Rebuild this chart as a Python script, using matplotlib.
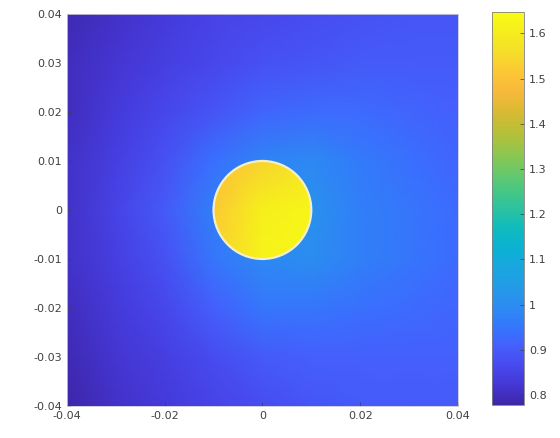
import numpy as np
import matplotlib
matplotlib.use('Agg')
import matplotlib.pyplot as plt
from matplotlib.colors import LinearSegmentedColormap
from matplotlib.patches import Circle

# parula-like colormap (MATLAB default)
parula_colors = [
    (0.2422, 0.1504, 0.6603), (0.2706, 0.2147, 0.8353), (0.2810, 0.2886, 0.9380),
    (0.2691, 0.3756, 0.9917), (0.2052, 0.4691, 0.9898), (0.1734, 0.5475, 0.9462),
    (0.1391, 0.6059, 0.9011), (0.0974, 0.6530, 0.8763), (0.0424, 0.6938, 0.8262),
    (0.0582, 0.7334, 0.7406), (0.1717, 0.7625, 0.6237), (0.2858, 0.7810, 0.5044),
    (0.4340, 0.7854, 0.3954), (0.5902, 0.7728, 0.2899), (0.7316, 0.7480, 0.2144),
    (0.8596, 0.7250, 0.2008), (0.9710, 0.7238, 0.2320), (0.9900, 0.7800, 0.2100),
    (0.9590, 0.8700, 0.1600), (0.9600, 0.9300, 0.1150), (0.9769, 0.9839, 0.0805),
]
parula = LinearSegmentedColormap.from_list('parula', parula_colors)

# outer field, rows from y=0.04 (top) to y=-0.04 (bottom)
x_grid = [-0.04, -0.03, -0.02, -0.01, 0.0, 0.01, 0.02, 0.03, 0.04]
y_grid = [0.04, 0.03, 0.02, 0.01, 0.0, -0.01, -0.02, -0.03, -0.04]
field = [
    [0.79, 0.81, 0.83, 0.85, 0.86, 0.87, 0.88, 0.89, 0.89],
    [0.80, 0.82, 0.84, 0.86, 0.88, 0.89, 0.90, 0.90, 0.90],
    [0.80, 0.83, 0.86, 0.89, 0.92, 0.93, 0.93, 0.92, 0.91],
    [0.81, 0.84, 0.88, 0.94, 0.98, 0.99, 0.96, 0.94, 0.92],
    [0.81, 0.85, 0.90, 0.97, 1.00, 1.01, 0.97, 0.95, 0.93],
    [0.81, 0.84, 0.88, 0.95, 0.99, 1.00, 0.97, 0.95, 0.93],
    [0.80, 0.83, 0.86, 0.91, 0.95, 0.95, 0.94, 0.93, 0.92],
    [0.79, 0.82, 0.84, 0.87, 0.90, 0.91, 0.91, 0.91, 0.91],
    [0.78, 0.81, 0.83, 0.85, 0.87, 0.89, 0.90, 0.90, 0.90],
]

# inside the disk
disk_x = [-0.01, 0.0, 0.01]
disk_y = [0.01, 0.0, -0.01]
disk = [
    [1.50, 1.54, 1.58],
    [1.52, 1.61, 1.63],
    [1.54, 1.62, 1.63],
]
radius = 0.01
vmin, vmax = 0.778, 1.647
cticks = [0.8, 0.9, 1.0, 1.1, 1.2, 1.3, 1.4, 1.5, 1.6]

fig = plt.figure(figsize=(5.6, 4.38), dpi=100)
ax = fig.add_axes([0.1196, 0.0731, 0.698, 0.895])
cax = fig.add_axes([0.879, 0.0753, 0.057, 0.897])

X, Y = np.meshgrid(x_grid, y_grid)
mesh = ax.pcolormesh(X, Y, np.array(field), cmap=parula, vmin=vmin, vmax=vmax, shading='gouraud')

DX, DY = np.meshgrid(disk_x, disk_y)
dmesh = ax.pcolormesh(DX, DY, np.array(disk), cmap=parula, vmin=vmin, vmax=vmax, shading='gouraud')
clip = Circle((0, 0), radius, transform=ax.transData, facecolor='none', edgecolor='none')
ax.add_patch(clip)
dmesh.set_clip_path(clip)
ax.add_patch(Circle((0, 0), radius, facecolor='none', edgecolor='#f3f0c8', linewidth=1.6, zorder=3))

ax.set_xlim(-0.04, 0.04)
ax.set_ylim(-0.04, 0.04)
ticks = [-0.04, -0.03, -0.02, -0.01, 0, 0.01, 0.02, 0.03, 0.04]
ax.set_xticks([-0.04, -0.02, 0, 0.02, 0.04])
ax.set_xticklabels(['-0.04', '-0.02', '0', '0.02', '0.04'])
ax.set_yticks(ticks)
ax.set_yticklabels(['-0.04', '-0.03', '-0.02', '-0.01', '0', '0.01', '0.02', '0.03', '0.04'])
ax.tick_params(direction='in', length=3, labelsize=8, colors='#404040', width=0.5)
for s in ax.spines.values():
    s.set_color('#c8c8d8')
    s.set_linewidth(0.6)

cb = fig.colorbar(mesh, cax=cax, ticks=cticks)
cb.ax.set_yticklabels(['0.8', '0.9', '1', '1.1', '1.2', '1.3', '1.4', '1.5', '1.6'])
cb.ax.tick_params(direction='in', length=3, labelsize=8, colors='#404040', width=0.5)
cb.outline.set_edgecolor('#808080')
cb.outline.set_linewidth(0.6)

fig.savefig('out.png', dpi=100)
